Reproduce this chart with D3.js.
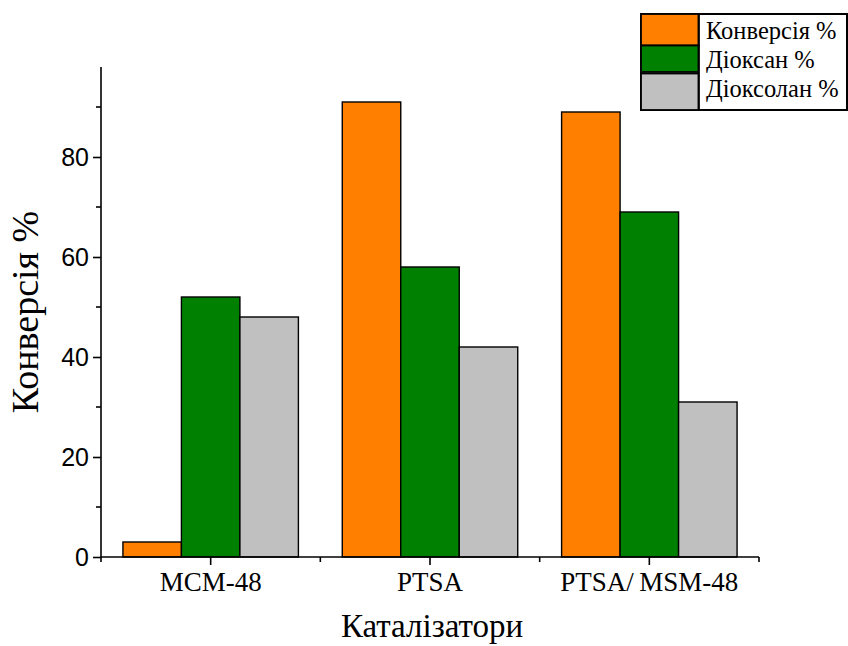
<!DOCTYPE html>
<html>
<head>
<meta charset="utf-8">
<script src="https://cdn.jsdelivr.net/npm/d3@7/dist/d3.min.js"></script>
<style>
  html, body { margin: 0; padding: 0; background: #fff; }
  svg { display: block; }
</style>
</head>
<body>
<svg id="chart" width="848" height="646"></svg>
<script>
// Catalysts and the three measured quantities (%)
const categories = ["MCM-48", "PTSA", "PTSA/\u2009MSM-48"];
const seriesNames = ["Конверсія %", "Діоксан %", "Діоксолан %"];
const conversion = [3, 91, 89];
const dioxane = [52, 58, 69];
const dioxolane = [48, 42, 31];
const yTicks = [0, 20, 40, 60, 80];
const yMinorTicks = [10, 30, 50, 70, 90];
const colors = ["#FF8000", "#008000", "#C0C0C0"];

const seriesValues = [conversion, dioxane, dioxolane];
const rows = categories.map((c, i) => ({
  category: c,
  values: seriesNames.map((s, j) => ({ series: s, value: seriesValues[j][i], color: colors[j] }))
}));

const svg = d3.select("#chart");
const serifFont = "Liberation Serif";
const sansFont = "Liberation Sans";

const plotLeft = 101, plotRight = 759, plotBottom = 557, plotTop = 67;

const x = d3.scaleBand().domain(categories).range([plotLeft, plotRight]).paddingInner(0.2).paddingOuter(0.1);
const xInner = d3.scaleBand().domain(seriesNames).range([0, x.bandwidth()]).padding(0);
const y = d3.scaleLinear().domain([0, 98]).range([plotBottom, plotTop]);

// Bars
svg.append("g").selectAll("g")
  .data(rows).join("g")
  .attr("transform", d => `translate(${x(d.category)},0)`)
  .selectAll("rect")
  .data(d => d.values).join("rect")
  .attr("x", d => xInner(d.series))
  .attr("y", d => y(d.value))
  .attr("width", xInner.bandwidth())
  .attr("height", d => y(0) - y(d.value))
  .attr("fill", d => d.color)
  .attr("stroke", "#000")
  .attr("stroke-width", 1.4);

// Y axis
const yAxis = svg.append("g").attr("transform", `translate(${plotLeft},0)`)
  .call(d3.axisLeft(y).tickValues(yTicks).tickSize(8).tickPadding(4));
yAxis.select(".domain").attr("stroke-width", 1.6).attr("d", `M0,${plotBottom}V${plotTop}`);
yAxis.selectAll(".tick line").attr("stroke-width", 1.6);
yAxis.selectAll(".tick text").style("font-family", sansFont).attr("font-size", 25).attr("fill", "#000");
yAxis.append("g").selectAll("line").data(yMinorTicks).join("line")
  .attr("x1", -5).attr("x2", 0)
  .attr("y1", d => y(d)).attr("y2", d => y(d))
  .attr("stroke", "#000").attr("stroke-width", 1.6);

// X axis: major ticks at category centres, minor ticks at the group boundaries
const xg = svg.append("g");
xg.append("line").attr("x1", plotLeft).attr("x2", plotRight).attr("y1", plotBottom).attr("y2", plotBottom)
  .attr("stroke", "#000").attr("stroke-width", 1.6);
xg.selectAll("line.major").data(categories).join("line").attr("class", "major")
  .attr("x1", d => x(d) + x.bandwidth() / 2).attr("x2", d => x(d) + x.bandwidth() / 2)
  .attr("y1", plotBottom).attr("y2", plotBottom + 8)
  .attr("stroke", "#000").attr("stroke-width", 1.6);
const bounds = [plotLeft].concat(categories.map(c => x(c) + x.bandwidth() + x.step() * x.paddingInner() / 2));
bounds[bounds.length - 1] = plotRight;
xg.selectAll("line.minor").data(bounds).join("line").attr("class", "minor")
  .attr("x1", d => d).attr("x2", d => d)
  .attr("y1", plotBottom).attr("y2", plotBottom + 5)
  .attr("stroke", "#000").attr("stroke-width", 1.6);
xg.selectAll("text").data(categories).join("text")
  .attr("x", d => x(d) + x.bandwidth() / 2)
  .attr("y", 591)
  .attr("text-anchor", "middle")
  .style("font-family", serifFont).attr("font-size", 27)
  .text(d => d);

// Axis titles
svg.append("text")
  .attr("x", 432).attr("y", 637)
  .attr("text-anchor", "middle")
  .style("font-family", serifFont).attr("font-size", 33)
  .text("Каталізатори");
svg.append("text")
  .attr("transform", "translate(38,312) rotate(-90)")
  .attr("text-anchor", "middle")
  .style("font-family", serifFont).attr("font-size", 38)
  .text("Конверсія %");

// Legend
const legendRows = [[14, 45.5], [45.5, 72], [73.5, 110]];
const legendText = [39, 68, 97];
const lg = svg.append("g");
lg.append("rect").attr("x", 641).attr("y", 14).attr("width", 206).attr("height", 96)
  .attr("fill", "#fff").attr("stroke", "#000").attr("stroke-width", 2);
lg.selectAll("rect.sw").data(seriesNames).join("rect").attr("class", "sw")
  .attr("x", 641).attr("y", (d, i) => legendRows[i][0])
  .attr("width", 57.7).attr("height", (d, i) => legendRows[i][1] - legendRows[i][0])
  .attr("fill", (d, i) => colors[i])
  .attr("stroke", "#000").attr("stroke-width", 1.8);
lg.append("line").attr("x1", 698.7).attr("x2", 698.7).attr("y1", 14).attr("y2", 110)
  .attr("stroke", "#000").attr("stroke-width", 2);
lg.selectAll("text").data(seriesNames).join("text")
  .attr("x", 706).attr("y", (d, i) => legendText[i])
  .style("font-family", serifFont).attr("font-size", 24.5)
  .text(d => d);
</script>
</body>
</html>
